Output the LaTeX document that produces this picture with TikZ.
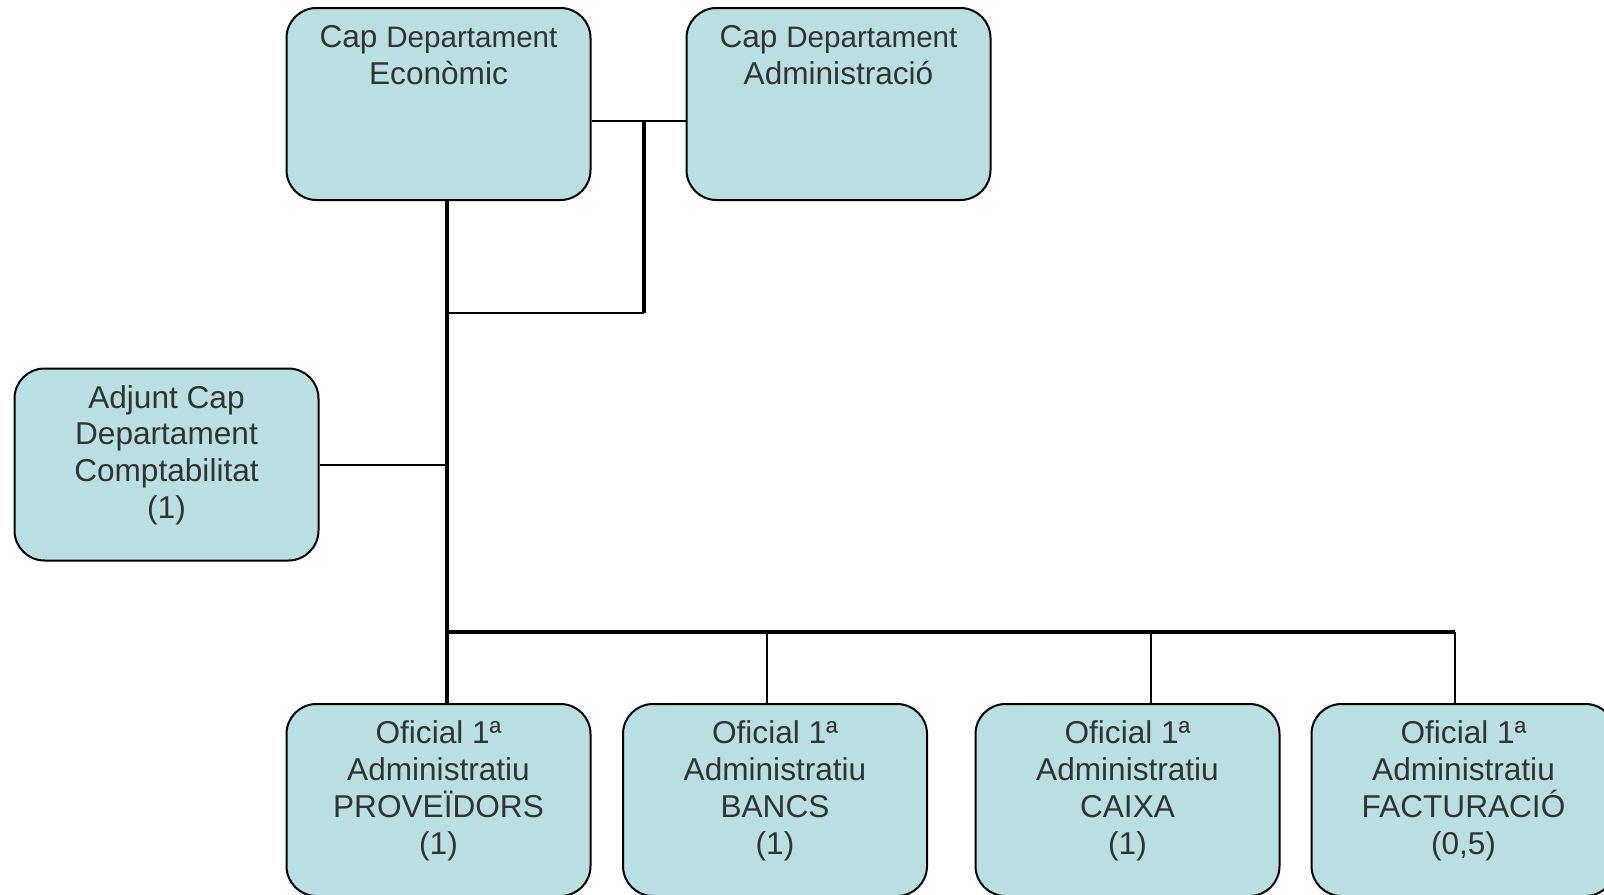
\documentclass[tikz,border=0pt]{standalone}
\usepackage{fontspec}
\setmainfont{Liberation Sans}
\definecolor{caixablava}{RGB}{185,223,227}
\definecolor{lletra}{RGB}{51,51,51}
\newcommand{\textcarrec}[1]{\parbox[c][96pt][t]{152pt}{\centering\fontsize{15.8pt}{18.4pt}\selectfont\rule{0pt}{19.8pt}#1}}
\newcommand{\dept}{{\fontsize{14.8pt}{18.4pt}\selectfont Departament}}

\begin{document}
\begin{tikzpicture}[x=0.5pt,y=-0.5pt,
        carrec/.style={draw,fill=caixablava,text=lletra,rounded corners=15pt,line width=1pt,inner sep=0pt},
        prim/.style={line width=1pt},
        gruix/.style={line width=1.6pt}]
        \useasboundingbox (0,0) rectangle (1604,894);
        %caps
        \node[carrec] (econ) at (438.5,104) {\textcarrec{Cap \dept\\Econòmic}};
        \node[carrec] (admin) at (838.5,104) {\textcarrec{Cap \dept\\Administració}};
        %adjunt
        \node[carrec] (adjunt) at (166.5,464.5) {\textcarrec{Adjunt Cap\\Departament\\Comptabilitat\\(1)}};
        %oficials
        \node[carrec] (prov) at (438.5,800) {\textcarrec{Oficial 1ª\\Administratiu\\PROVEÏDORS\\(1)}};
        \node[carrec] (bancs) at (775,800) {\textcarrec{Oficial 1ª\\Administratiu\\BANCS\\(1)}};
        \node[carrec] (caixa) at (1127.5,800) {\textcarrec{Oficial 1ª\\Administratiu\\CAIXA\\(1)}};
        \node[carrec] (fact) at (1463.5,800) {\textcarrec{Oficial 1ª\\Administratiu\\FACTURACIÓ\\(0,5)}};
        %unions
        \coordinate (nus) at (644,121);
        \coordinate (baix) at (644,313);
        \coordinate (eix) at (447,632);
        \coordinate (fi) at (1455,632);
        \coordinate (nb) at (767,632);
        \coordinate (nc) at (1151,632);
        \draw[prim] (econ.east |- nus) -- (admin.west |- nus);
        \draw[gruix] (nus) -- (baix);
        \draw[prim] (baix) -- (baix -| eix);
        \draw[gruix] (econ.south -| eix) -- (eix |- prov.north);
        \draw[prim] (adjunt.east) -- (adjunt.east -| eix);
        %barra
        \draw[gruix] (eix) -- (fi);
        \draw[prim] (fi) -- (fi |- fact.north);
        \draw[prim] (nb) -- (nb |- bancs.north);
        \draw[prim] (nc) -- (nc |- caixa.north);
\end{tikzpicture}
\end{document}
